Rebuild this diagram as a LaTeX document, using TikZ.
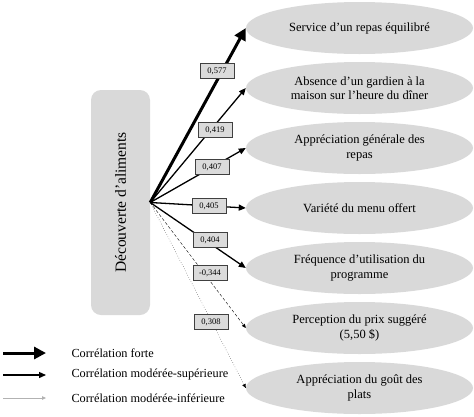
\documentclass[tikz,border=0pt]{standalone}
\usepackage{fontspec}
\setmainfont{Liberation Serif}
\usetikzlibrary{arrows.meta,shapes.geometric}
\tikzset{
  facteur/.style={ellipse, fill=gray!30, minimum width=227pt, minimum height=52pt, inner sep=0pt, align=center, font=\fontsize{12.5}{14.5}\selectfont},
  coef/.style={draw=black!75, fill=gray!28, minimum width=34pt, minimum height=15pt, inner sep=1pt, font=\fontsize{8.5}{10}\selectfont},
  forte/.style={line width=3pt, -{Triangle[length=12pt,width=12pt]}},
  superieure/.style={line width=1.3pt, -{Triangle[length=7pt,width=6pt]}},
  inferieure/.style={line width=0.4pt, densely dashed, -{Triangle[length=4pt,width=3.5pt]}},
  legende/.style={anchor=west, font=\fontsize{12.3}{14}\selectfont},
}
\begin{document}
\begin{tikzpicture}[x=1pt, y=-1pt]
  \useasboundingbox (0,0) rectangle (474,416);
  % facteur central
  \node[fill=gray!30, rounded corners=10pt, minimum width=59pt, minimum height=225pt] (decouverte) at (120.5,202.5) {};
  \node[rotate=90, font=\fontsize{15.5}{18}\selectfont] (titre) at (decouverte) {Découverte d'aliments};
  % variables
  \node[facteur] (e1) at (359.5,28) {Service d'un repas équilibré};
  \node[facteur] (e2) at (359.5,88) {Absence d'un gardien à la\\maison sur l'heure du dîner};
  \node[facteur] (e3) at (359.5,148) {Appréciation générale des\\repas};
  \node[facteur] (e4) at (359.5,208) {Variété du menu offert};
  \node[facteur] (e5) at (359.5,268) {Fréquence d'utilisation du\\programme};
  \node[facteur] (e6) at (359.5,328) {Perception du prix suggéré\\(5,50 \$)};
  \node[facteur] (e7) at (359.5,388) {Appréciation du goût des\\plats};
  % liens
  \draw[forte] (decouverte.east) -- (e1.west);
  \foreach \i in {2,...,5}
    \draw[superieure] (decouverte.east) -- (e\i.west);
  \draw[inferieure] (decouverte.east) -- (e6.west);
  \draw[inferieure, dotted] (decouverte.east) -- (e7.west);
  % coefficients
  \node[coef] (c1) at (217,71) {0,577};
  \node[coef] (c2) at (215,130) {0,419};
  \node[coef] (c3) at (212,167) {0,407};
  \node[coef] (c4) at (209,206) {0,405};
  \node[coef] (c5) at (210,240) {0,404};
  \node[coef] (c6) at (210,273) {-0,344};
  \node[coef] (c7) at (211,322) {0,308};
  % legende
  \coordinate (lf) at (3,353);
  \coordinate (ls) at (3,375);
  \coordinate (li) at (3,398);
  \draw[forte] (lf) -- ++(43,0);
  \draw[superieure] (ls) -- ++(43,0);
  \draw[inferieure, solid, draw=gray!60, fill=black] (li) -- ++(43,0);
  \node[legende] (tf) at (68,353) {Corrélation forte};
  \node[legende] (ts) at (68,375) {Corrélation modérée-supérieure};
  \node[legende] (ti) at (68,398) {Corrélation modérée-inférieure};
\end{tikzpicture}
\end{document}
